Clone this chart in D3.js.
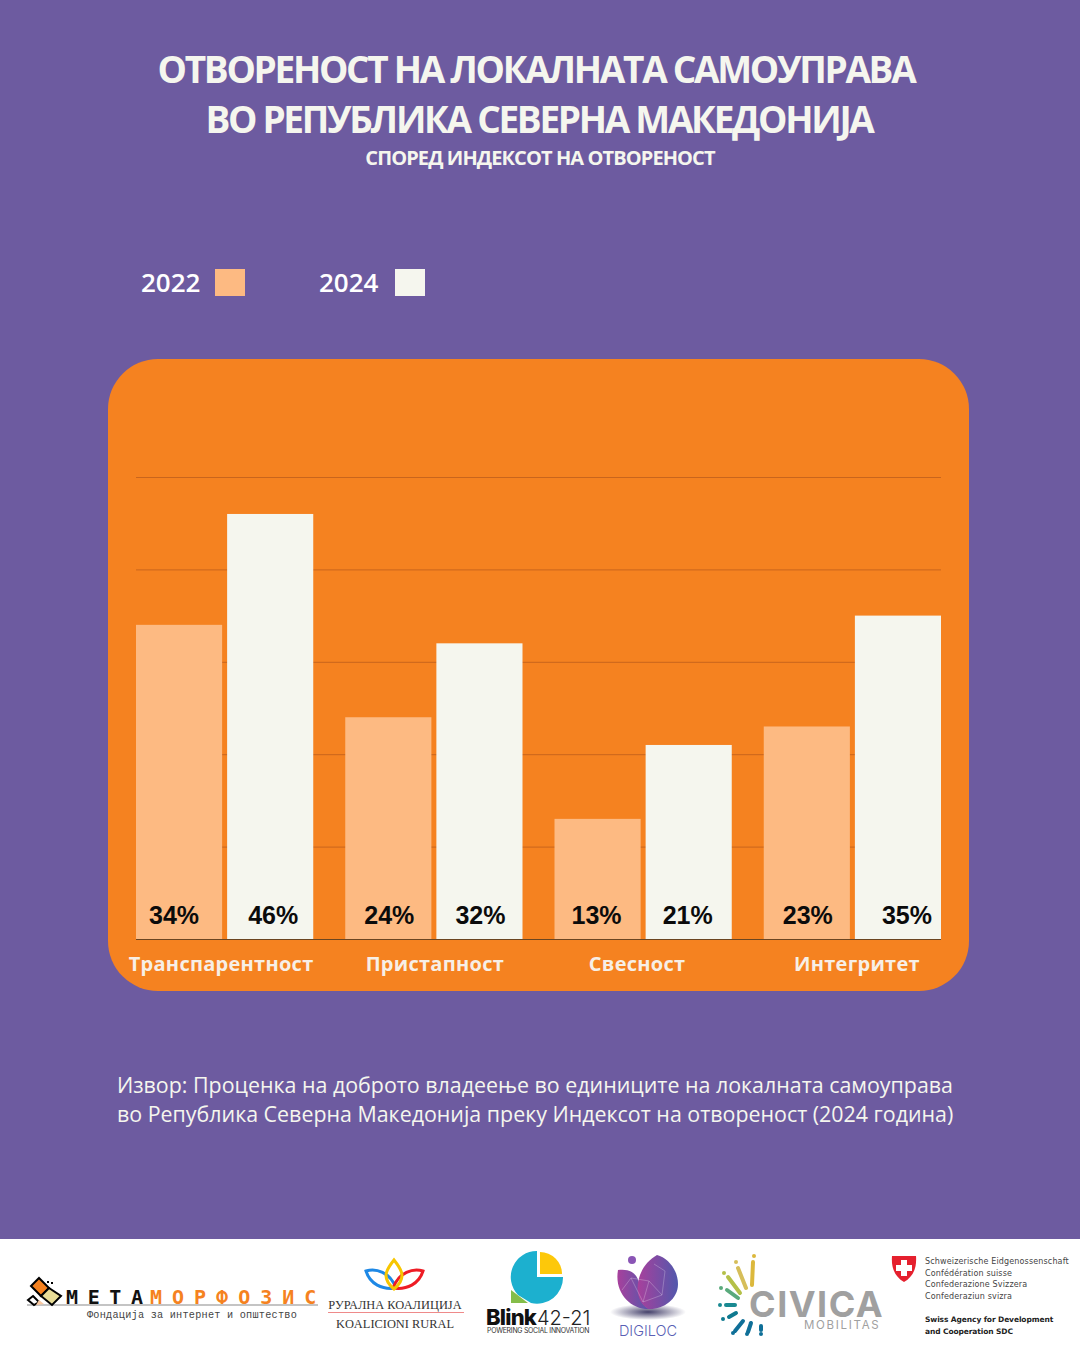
<!DOCTYPE html>
<html>
<head>
<meta charset="utf-8">
<script src="https://cdn.jsdelivr.net/npm/d3@7"></script>
<style>
html, body { margin: 0; padding: 0; background: #6d5ba0; }
svg { display: block; }
</style>
</head>
<body>
<div id="chart"></div>
<script>
const categories = ["Транспарентност", "Пристапност", "Свесност", "Интегритет"];
const years = ["2022", "2024"];
const values2022 = [34, 24, 13, 23];
const values2024 = [46, 32, 21, 35];
const gridTicks = [0, 10, 20, 30, 40, 50];

const titleLines = ["ОТВОРЕНОСТ НА ЛОКАЛНАТА САМОУПРАВА", "ВО РЕПУБЛИКА СЕВЕРНА МАКЕДОНИЈА"];
const subtitle = "СПОРЕД ИНДЕКСОТ НА ОТВОРЕНОСТ";
const sourceLines = [
    "Извор: Проценка на доброто владеење во единиците на локалната самоуправа",
    "во Република Северна Македонија преку Индексот на отвореност (2024 година)"
];

const W = 1080, H = 1350;
const bg = "#6d5ba0", panel = "#f58220", peach = "#fdba82", cream = "#f5f6ee";
const sans = "'Open Sans', sans-serif";

const svg = d3.select("#chart").append("svg")
    .attr("width", W)
    .attr("height", H)
    .attr("viewBox", [0, 0, W, H]);

svg.append("rect").attr("width", W).attr("height", H).attr("fill", bg);

// title block
svg.selectAll(".title")
    .data(titleLines)
    .enter()
    .append("text")
    .attr("class", "title")
    .attr("x", (d, i) => i === 0 ? 536 : 539)
    .attr("y", (d, i) => 83 + i * 50)
    .attr("text-anchor", "middle")
    .attr("font-family", sans)
    .attr("font-weight", 700)
    .attr("font-size", 37)
    .attr("letter-spacing", -2.3)
    .attr("fill", cream)
    .text(d => d);

svg.append("text")
    .attr("x", 540)
    .attr("y", 165)
    .attr("text-anchor", "middle")
    .attr("font-family", sans)
    .attr("font-weight", 700)
    .attr("font-size", 20)
    .attr("letter-spacing", -0.9)
    .attr("fill", cream)
    .text(subtitle);

// legend
const legendColor = d3.scaleOrdinal().domain(years).range([peach, cream]);
const legend = svg.selectAll(".legend")
    .data(years)
    .enter()
    .append("g")
    .attr("class", "legend")
    .attr("transform", (d, i) => "translate(" + (141 + i * 178) + ", 0)");
legend.append("text")
    .attr("y", 292)
    .attr("font-family", sans)
    .attr("font-weight", 600)
    .attr("font-size", 26)
    .attr("fill", "#fff")
    .text(d => d);
legend.append("rect")
    .attr("x", (d, i) => i === 0 ? 74 : 76)
    .attr("y", 269)
    .attr("width", 30)
    .attr("height", 27)
    .attr("fill", d => legendColor(d));

// panel
svg.append("rect")
    .attr("x", 108).attr("y", 359)
    .attr("width", 861).attr("height", 632)
    .attr("rx", 50)
    .attr("fill", panel);

const x0 = d3.scaleBand()
    .domain(categories)
    .range([136, 941])
    .paddingInner(0.153)
    .paddingOuter(0);
const x1 = d3.scaleBand()
    .domain(years)
    .range([0, x0.bandwidth()])
    .paddingInner(0.055);
const y = d3.scaleLinear().domain([0, 50]).range([939, 477]);

// grid
const grid = svg.append("g")
    .attr("transform", "translate(136,0)")
    .call(d3.axisRight(y).tickValues(gridTicks).tickSize(805).tickFormat(""));
grid.select(".domain").remove();
grid.selectAll("line")
    .attr("stroke", d => d === 0 ? "#6b4520" : "#c9651c")
    .attr("stroke-width", 1);

// bars
const rows = categories.map((c, i) => ({ category: c, v2022: values2022[i], v2024: values2024[i] }));
const group = svg.selectAll(".group")
    .data(rows)
    .enter()
    .append("g")
    .attr("class", "group")
    .attr("transform", d => "translate(" + x0(d.category) + ",0)");

// the labels in the reference sit a little off the bar centres
const labelNudge = { "2022": [-5, 1, -1, 1], "2024": [3, 1, -1, 9] };

group.selectAll("rect")
    .data((d, i) => years.map(yr => ({ yr: yr, value: d["v" + yr], idx: i })))
    .enter()
    .append("rect")
    .attr("x", d => x1(d.yr))
    .attr("y", d => y(d.value))
    .attr("width", x1.bandwidth())
    .attr("height", d => y(0) - y(d.value))
    .attr("fill", d => legendColor(d.yr));

group.selectAll("text")
    .data((d, i) => years.map(yr => ({ yr: yr, value: d["v" + yr], idx: i })))
    .enter()
    .append("text")
    .attr("x", d => x1(d.yr) + x1.bandwidth() / 2 + labelNudge[d.yr][d.idx])
    .attr("y", 924)
    .attr("text-anchor", "middle")
    .attr("font-family", "'Liberation Sans', sans-serif")
    .attr("font-weight", 700)
    .attr("font-size", 25)
    .attr("fill", "#0b0b0b")
    .text(d => d.value + "%");

// category labels
const catNudge = [-3.5, 1, -6, 4.5];
const xAxis = svg.append("g")
    .attr("transform", "translate(0,939)")
    .call(d3.axisBottom(x0).tickSize(0));
xAxis.select(".domain").remove();
xAxis.selectAll("text")
    .attr("x", (d, i) => catNudge[i])
    .attr("y", 18)
    .attr("font-family", sans)
    .attr("font-weight", 700)
    .attr("font-size", 20)
    .attr("letter-spacing", 0.27)
    .attr("fill", "#f7efe6");

// source
svg.selectAll(".source")
    .data(sourceLines)
    .enter()
    .append("text")
    .attr("class", "source")
    .attr("x", 117)
    .attr("y", (d, i) => 1093 + i * 29)
    .attr("font-family", sans)
    .attr("font-size", 21.4)
    .attr("fill", cream)
    .text(d => d);

// footer with logos
svg.append("rect").attr("y", 1239).attr("width", W).attr("height", 111).attr("fill", "#fff");
const logos = svg.append("g");

function txt(g, x, y, s, size, fill, opts) {
    opts = opts || {};
    return g.append("text")
        .attr("x", x).attr("y", y)
        .attr("font-family", opts.font || sans)
        .attr("font-size", size)
        .attr("font-weight", opts.weight || 400)
        .attr("letter-spacing", opts.spacing || 0)
        .attr("text-anchor", opts.anchor || "start")
        .attr("fill", fill)
        .text(s);
}

// Metamorfozis
const mono = "'DejaVu Sans Mono', monospace";
const meta = logos.append("g");
meta.append("rect").attr("x", 27).attr("y", 1304).attr("width", 291).attr("height", 2).attr("fill", "#c4c4c4");
meta.append("path").attr("d", "M39 1278L49 1288L41 1296L31 1286Z").attr("fill", "#f58220").attr("stroke", "#000").attr("stroke-width", 2);
meta.append("path").attr("d", "M49 1288L61 1296L52 1305L41 1296Z").attr("fill", "#e8dc96").attr("stroke", "#000").attr("stroke-width", 2);
meta.append("path").attr("d", "M33 1296L39 1302L34 1305L28 1300Z").attr("fill", "#fff").attr("stroke", "#000").attr("stroke-width", 2);
meta.append("path").attr("d", "M39 1300L44 1304L36 1305Z").attr("fill", "#f9c8a0");
meta.append("rect").attr("x", 47).attr("y", 1281).attr("width", 2).attr("height", 2);
meta.append("rect").attr("x", 51).attr("y", 1282).attr("width", 2).attr("height", 2);
txt(meta, 66, 1304, "МЕТА", 20, "#111", { font: mono, weight: 700, spacing: 9.6 });
txt(meta, 150, 1304, "МОРФОЗИС", 20, "#f58220", { font: mono, weight: 700, spacing: 10 });
txt(meta, 192, 1318, "Фондација за интернет и општество", 10.2, "#444", { font: "'Liberation Mono', monospace", anchor: "middle", spacing: 0.25 });

// Rural coalition
const rural = logos.append("g");
rural.append("path").attr("d", "M366 1271C376 1268 390 1272 396 1288C382 1290 370 1284 366 1271Z").attr("fill", "none").attr("stroke", "#1e88e5").attr("stroke-width", 3);
rural.append("path").attr("d", "M423 1271C413 1268 399 1272 393 1288C407 1290 419 1284 423 1271Z").attr("fill", "none").attr("stroke", "#ee1c25").attr("stroke-width", 3);
rural.append("path").attr("d", "M394 1260C386 1270 381 1278 394 1289C407 1278 402 1270 394 1260Z").attr("fill", "none").attr("stroke", "#f7c600").attr("stroke-width", 3);
txt(rural, 395, 1309, "РУРАЛНА КОАЛИЦИЈА", 12.4, "#333", { font: "'Liberation Serif', serif", anchor: "middle" });
rural.append("rect").attr("x", 328).attr("y", 1312).attr("width", 136).attr("height", 1).attr("fill", "#ef8a8a");
txt(rural, 395, 1328, "KOALICIONI RURAL", 12.4, "#333", { font: "'Liberation Serif', serif", anchor: "middle" });

// Blink
const blink = logos.append("g");
blink.append("path").attr("d", "M537 1251A26 26 0 0 0 518 1295L531 1303A26 26 0 0 0 563 1277L537 1277Z").attr("fill", "#1cb0cf");
blink.append("path").attr("d", "M540 1252A22 22 0 0 1 562 1274L540 1274Z").attr("fill", "#fdc80a");
blink.append("path").attr("d", "M511 1290L528 1303L511 1303Z").attr("fill", "#84bd4a");
txt(blink, 486, 1325, "Blink", 22, "#111", { font: "Inter, sans-serif", weight: 800, spacing: -0.8 });
txt(blink, 537, 1325, "42-21", 20, "#222", { font: "Inter, sans-serif", weight: 300 });
txt(blink, 487, 1333, "POWERING SOCIAL INNOVATION", 6.9, "#333", { font: "Inter, sans-serif", spacing: -0.25 });

// Digiloc
const digiGrad = logos.append("defs").append("linearGradient").attr("id", "digi");
digiGrad.append("stop").attr("offset", "0").attr("stop-color", "#a8409c");
digiGrad.append("stop").attr("offset", "1").attr("stop-color", "#5258ac");
const shadowGrad = logos.select("defs").append("radialGradient").attr("id", "digiShadow");
shadowGrad.append("stop").attr("offset", "0").attr("stop-color", "#44406a");
shadowGrad.append("stop").attr("offset", "1").attr("stop-color", "#fff");
const digi = logos.append("g");
digi.append("ellipse").attr("cx", 648).attr("cy", 1312).attr("rx", 38).attr("ry", 8).attr("fill", "url(#digiShadow)");
digi.append("circle").attr("cx", 632).attr("cy", 1260).attr("r", 4).attr("fill", "#8a55b5");
digi.append("path").attr("d", "M618 1270C630 1268 640 1274 640 1290C640 1300 642 1306 650 1309C630 1310 614 1292 618 1270Z").attr("fill", "url(#digi)");
digi.append("path").attr("d", "M657 1255C668 1258 678 1270 678 1284C678 1300 662 1310 648 1309C632 1300 634 1268 657 1255Z").attr("fill", "url(#digi)");
digi.append("path").attr("d", "M622 1290L631 1278L649 1281L662 1295L665 1271L654 1264M649 1281L643 1302L662 1295M631 1278L643 1302")
    .attr("fill", "none").attr("stroke", "#fff").attr("stroke-opacity", 0.35).attr("stroke-width", 0.7);
txt(digi, 648, 1336, "DIGILOC", 14.5, "#5a5fb5", { font: "Inter, sans-serif", anchor: "middle", weight: 300 });

// Civica
const civica = logos.append("g");
const rays = civica.append("g").attr("stroke-linecap", "round").selectAll("g")
    .data([
        ["#dcb83c", 753, 1262, 752, 1285, 754, 1256], ["#d6be5a", 738, 1268, 746, 1288, 736, 1262], ["#b4c048", 728, 1277, 740, 1293, 724, 1273],
        ["#5aaa7c", 727, 1290, 738, 1298, 721, 1288], ["#1a8a92", 726, 1305, 735, 1305, 720, 1305], ["#0f7a90", 729, 1317, 736, 1313, 723, 1319],
        ["#0f6f98", 735, 1331, 743, 1321, 733, 1333], ["#0f6f98", 748, 1332, 751, 1323, 747, 1334], ["#0f6f98", 761, 1326, 761, 1330, 761, 1334]
    ])
    .enter()
    .append("g");
rays.append("line")
    .attr("x1", d => d[1]).attr("y1", d => d[2])
    .attr("x2", d => d[3]).attr("y2", d => d[4])
    .attr("stroke", d => d[0])
    .attr("stroke-width", 4);
rays.append("circle")
    .attr("cx", d => d[5]).attr("cy", d => d[6]).attr("r", 2)
    .attr("fill", d => d[0]);
txt(civica, 749, 1317, "CIVICA", 36, "#a0a0a0", { font: "Inter, sans-serif", weight: 700, spacing: 1.5 });
txt(civica, 804, 1329, "MOBILITAS", 11.5, "#a0a0a0", { font: "Inter, sans-serif", spacing: 1.7 });

// Swiss
const swiss = logos.append("g");
swiss.append("path").attr("d", "M892 1256H916C917 1268 913 1277 904 1282C895 1277 891 1268 892 1256Z").attr("fill", "#e5202e");
swiss.append("path").attr("d", "M901 1260H907V1265H912V1271H907V1276H901V1271H896V1265H901Z").attr("fill", "#fff");
const swissLines = ["Schweizerische Eidgenossenschaft", "Confédération suisse", "Confederazione Svizzera", "Confederaziun svizra"];
swissLines.forEach((s, i) => txt(swiss, 925, 1264 + i * 11.6, s, 8, "#444", { font: "'DejaVu Sans', sans-serif", spacing: 0.15 }));
txt(swiss, 925, 1322, "Swiss Agency for Development", 7.5, "#222", { font: "'DejaVu Sans', sans-serif", weight: 700, spacing: -0.1 });
txt(swiss, 925, 1334, "and Cooperation SDC", 7.5, "#222", { font: "'DejaVu Sans', sans-serif", weight: 700, spacing: -0.1 });
</script>
</body>
</html>
